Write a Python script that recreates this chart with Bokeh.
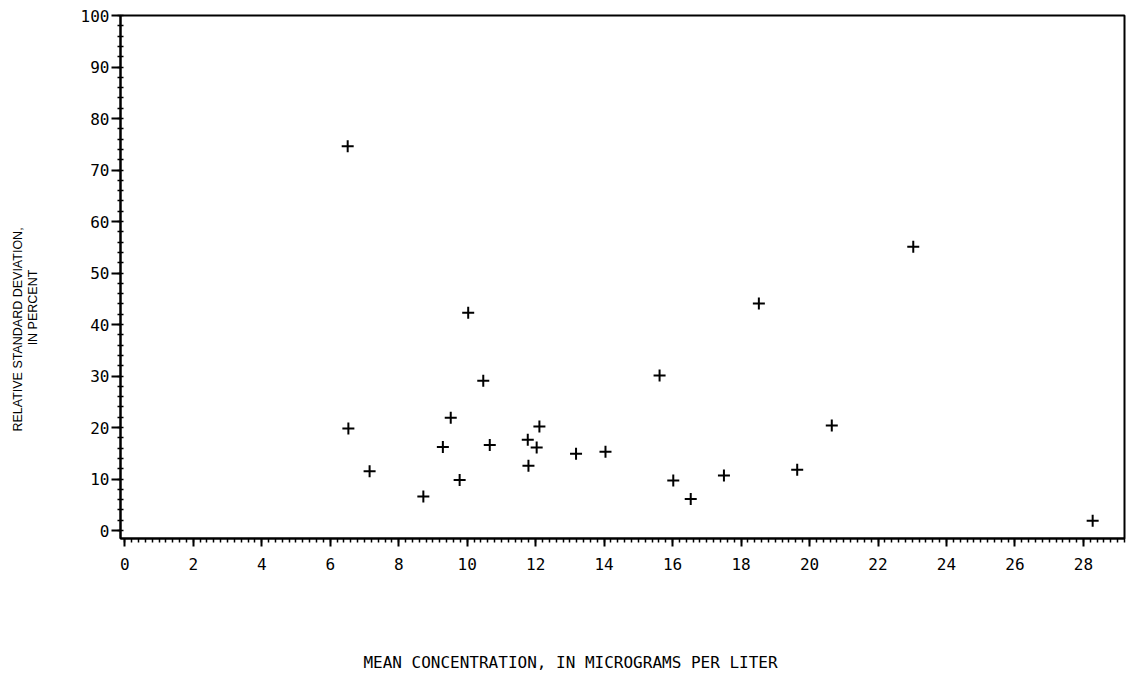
import math
from bokeh.plotting import figure
from bokeh.models import Range1d, SingleIntervalTicker, Label
from bokeh.embed import file_html
from bokeh.resources import INLINE

# Data
mean_conc = [6.51, 6.53, 7.15, 8.72, 9.29, 9.52, 9.78, 10.03, 10.47, 10.66,
             11.77, 11.79, 12.03, 12.11, 13.18, 14.04, 15.62, 16.02, 16.53,
             17.50, 18.52, 19.64, 20.65, 23.03, 28.27]
rel_std = [74.6, 19.8, 11.5, 6.6, 16.2, 21.9, 9.8, 42.3, 29.1, 16.6,
           17.6, 12.6, 16.1, 20.2, 14.9, 15.3, 30.1, 9.7, 6.1,
           10.7, 44.1, 11.8, 20.4, 55.1, 1.9]

x_title = "MEAN CONCENTRATION, IN MICROGRAMS PER LITER"
y_title_1 = "RELATIVE STANDARD DEVIATION,"
y_title_2 = "IN PERCENT"

p = figure(width=1126, height=686, output_backend="svg", toolbar_location=None,
           x_range=Range1d(-0.126, 29.2), y_range=Range1d(-1.55, 100),
           min_border_left=120, min_border_right=2, min_border_top=15,
           min_border_bottom=148)

p.background_fill_color = "white"
p.border_fill_color = "white"
p.xgrid.visible = False
p.ygrid.visible = False
p.outline_line_color = "black"
p.outline_line_width = 2

p.scatter(mean_conc, rel_std, marker="cross", size=12, line_width=2,
          line_color="black")

tick_font = "DejaVu Sans Mono"

p.xaxis.ticker = SingleIntervalTicker(interval=2, num_minor_ticks=10)
p.yaxis.ticker = SingleIntervalTicker(interval=10, num_minor_ticks=5)
for ax in (p.xaxis[0], p.yaxis[0]):
    ax.axis_line_color = "black"
    ax.axis_line_width = 2
    ax.major_tick_line_color = "black"
    ax.major_tick_line_width = 2
    ax.minor_tick_line_color = "black"
    ax.minor_tick_line_width = 1.5
    ax.major_label_text_font = tick_font
    ax.major_label_text_font_size = "16px"
    ax.major_label_text_color = "black"

p.xaxis.major_tick_in = 0
p.xaxis.major_tick_out = 8
p.xaxis.minor_tick_in = 0
p.xaxis.minor_tick_out = 4
p.xaxis.major_label_standoff = 11

p.yaxis.major_tick_in = 0
p.yaxis.major_tick_out = 9
p.yaxis.minor_tick_in = 3
p.yaxis.minor_tick_out = 3
p.yaxis.major_label_standoff = 2

p.add_layout(Label(x=450, y=-71, x_units="screen", y_units="screen",
                   text=x_title, text_align="center", text_baseline="middle",
                   text_font=tick_font, text_font_size="16px",
                   text_color="black"), "below")
p.add_layout(Label(x=-31, y=231, x_units="screen", y_units="screen",
                   text=y_title_2, angle=math.pi / 2, text_align="center",
                   text_baseline="middle", text_font="Liberation Sans",
                   text_font_size="12.5px", text_color="black"), "left")
p.add_layout(Label(x=-32, y=209, x_units="screen", y_units="screen",
                   text=y_title_1, angle=math.pi / 2, text_align="center",
                   text_baseline="middle", text_font="Liberation Sans",
                   text_font_size="12.5px", text_color="black"), "left")

open("out.html", "w").write(file_html(p, INLINE))
